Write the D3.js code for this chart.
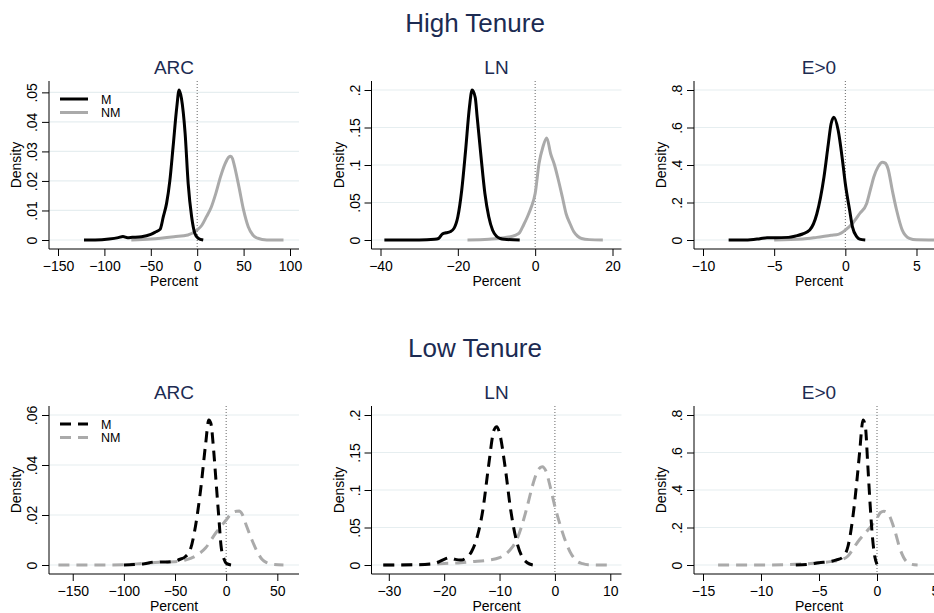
<!DOCTYPE html>
<html>
<head>
<meta charset="utf-8">
<script src="https://cdn.jsdelivr.net/npm/d3@7"></script>
<style>
  body { margin: 0; background: #fff; }
  text { font-family: "Liberation Sans", Arial, sans-serif; }
</style>
</head>
<body>
<div id="graph"></div>
<script>
// kernel density curves: [percent, density]
const highArcM = [[-122,0],[-110,0],[-95,0.0003],[-85,0.0008],[-80,0.0012],[-75,0.0008],[-70,0.0009],[-60,0.0011],[-50,0.0019],[-45,0.0027],[-40,0.0036],[-36.5,0.0079],[-33,0.0124],[-29.5,0.020],[-26,0.0315],[-22,0.045],[-19.5,0.0508],[-17,0.048],[-13,0.036],[-9.7,0.019],[-6,0.0079],[-2.5,0.0022],[1,0.0006],[6.5,0]];
const highArcNM = [[-71,0],[-50,0.0003],[-25,0.0011],[-10,0.0017],[0,0.0034],[5,0.005],[10,0.0079],[15,0.011],[20,0.0157],[25,0.0213],[30,0.0258],[34,0.0281],[36,0.0284],[38,0.0276],[40,0.0253],[45,0.018],[50,0.0101],[55,0.0045],[60,0.0017],[65,0.0006],[70,0.0002],[80,0],[93,0]];
const highLnM = [[-39,0],[-30,0],[-26,0.001],[-25,0.002],[-24,0.008],[-23,0.0097],[-22,0.011],[-21,0.0155],[-20,0.031],[-19,0.066],[-18,0.119],[-17,0.177],[-16.3,0.2],[-15.5,0.19],[-15,0.164],[-14,0.111],[-13,0.062],[-12,0.031],[-11,0.013],[-10,0.005],[-9,0.002],[-8,0.001],[-4,0]];
const highLnNM = [[-17.5,0],[-12,0.001],[-8,0.003],[-5,0.0066],[-4,0.01],[-3,0.02],[-2,0.031],[-1,0.044],[0,0.062],[1,0.102],[2,0.124],[3,0.136],[4,0.115],[5,0.1],[6,0.08],[7,0.058],[8,0.035],[9,0.022],[10,0.011],[11,0.005],[12,0.002],[14,0.0005],[17.5,0]];
const highEM = [[-8.2,0],[-7,0],[-6,0.007],[-5.5,0.012],[-5,0.012],[-4,0.014],[-3.5,0.021],[-3,0.032],[-2.5,0.053],[-2,0.14],[-1.5,0.336],[-1.2,0.51],[-1,0.62],[-0.8,0.655],[-0.5,0.584],[-0.2,0.425],[0,0.30],[0.3,0.16],[0.5,0.07],[0.8,0.018],[1,0.005],[1.4,0]];
const highENM = [[-5,0],[-3,0.005],[-2,0.014],[-1,0.025],[-0.5,0.03],[0,0.053],[0.5,0.088],[1,0.14],[1.5,0.195],[1.8,0.28],[2,0.336],[2.3,0.39],[2.6,0.415],[2.8,0.41],[3,0.38],[3.3,0.265],[3.6,0.16],[4,0.053],[4.5,0.009],[5,0.001],[6.3,0]];

const lowArcM = [[-100,0],[-90,0.0002],[-80,0.0005],[-70,0.0012],[-60,0.0012],[-50,0.0016],[-45,0.0023],[-40,0.0033],[-35,0.0062],[-30,0.0155],[-25,0.030],[-20,0.0487],[-17,0.058],[-15,0.0567],[-12,0.0447],[-10,0.034],[-7,0.018],[-5,0.0076],[-2,0.0023],[0,0.0007],[5,0]];
const lowArcNM = [[-164,0],[-130,0],[-100,0.0001],[-80,0.0007],[-60,0.0012],[-50,0.0013],[-40,0.002],[-30,0.0036],[-20,0.0069],[-10,0.0129],[-5,0.0155],[0,0.018],[5,0.0206],[10,0.0215],[13,0.0216],[15,0.0208],[20,0.0155],[25,0.0102],[30,0.0056],[35,0.0023],[40,0.0009],[45,0.0003],[56,0]];
const lowLnM = [[-31,0],[-25,0.0004],[-22,0.0018],[-21,0.004],[-20,0.0075],[-19,0.0097],[-18,0.0075],[-17,0.0066],[-16,0.0097],[-15,0.0186],[-14,0.0385],[-13,0.074],[-12,0.131],[-11,0.18],[-10.5,0.1845],[-10,0.176],[-9,0.131],[-8,0.074],[-7,0.034],[-6,0.012],[-5,0.003],[-4,0]];
const lowLnNM = [[-31,0],[-22,0.001],[-20,0.002],[-17,0.003],[-15,0.0044],[-12,0.0066],[-10,0.0097],[-9,0.014],[-8,0.021],[-7,0.032],[-6,0.052],[-5,0.078],[-4,0.107],[-3,0.127],[-2.3,0.131],[-1.5,0.123],[-1,0.109],[0,0.078],[1,0.052],[2,0.030],[3,0.014],[4,0.005],[5,0.0018],[6,0.0004],[9.5,0]];
const lowEM = [[-7,0],[-6,0.0035],[-5,0.012],[-4,0.019],[-3.5,0.027],[-3,0.039],[-2.5,0.1],[-2,0.296],[-1.7,0.47],[-1.5,0.6],[-1.2,0.774],[-1,0.738],[-0.8,0.54],[-0.6,0.33],[-0.4,0.154],[-0.2,0.048],[0,0.0035]];
const lowENM = [[-13.7,0],[-10,0],[-7,0.0035],[-5,0.012],[-4,0.018],[-3,0.03],[-2.5,0.048],[-2,0.092],[-1.5,0.136],[-1,0.172],[-0.5,0.207],[0,0.25],[0.3,0.28],[0.6,0.287],[1,0.27],[1.5,0.19],[2,0.083],[2.5,0.021],[3,0.0035],[3.5,0]];

// tick values
const arcHighXTicks = [-150, -100, -50, 0, 50, 100];
const lnHighXTicks = [-40, -20, 0, 20];
const eHighXTicks = [-10, -5, 0, 5];
const arcLowXTicks = [-150, -100, -50, 0, 50];
const lnLowXTicks = [-30, -20, -10, 0, 10];
const eLowXTicks = [-15, -10, -5, 0, 5];
const arcHighYTicks = [0, 0.01, 0.02, 0.03, 0.04, 0.05];
const arcLowYTicks = [0, 0.02, 0.04, 0.06];
const lnYTicks = [0, 0.05, 0.1, 0.15, 0.2];
const eYTicks = [0, 0.2, 0.4, 0.6, 0.8];

const rowTitles = ["High Tenure", "Low Tenure"];
const panelTitles = ["ARC", "LN", "E>0"];
const legendLabels = ["M", "NM"];

const panels = [
  {row: 0, col: 0, m: highArcM, nm: highArcNM, xDomain: [-150, 100], xTicks: arcHighXTicks, yMax: 0.0508, yTicks: arcHighYTicks, legend: true},
  {row: 0, col: 1, m: highLnM, nm: highLnNM, xDomain: [-40, 20], xTicks: lnHighXTicks, yMax: 0.2, yTicks: lnYTicks},
  {row: 0, col: 2, m: highEM, nm: highENM, xDomain: [-10, 6.3], xTicks: eHighXTicks, yMax: 0.8, yTicks: eYTicks},
  {row: 1, col: 0, m: lowArcM, nm: lowArcNM, xDomain: [-164.4, 62.4], xTicks: arcLowXTicks, yMax: 0.06, yTicks: arcLowYTicks, legend: true},
  {row: 1, col: 1, m: lowLnM, nm: lowLnNM, xDomain: [-31.5, 10.4], xTicks: lnLowXTicks, yMax: 0.2, yTicks: lnYTicks},
  {row: 1, col: 2, m: lowEM, nm: lowENM, xDomain: [-15, 5], xTicks: eLowXTicks, yMax: 0.8, yTicks: eYTicks}
];

const dimension = {
  width: 934, height: 613,
  box: {width: 250, height: 168, pad: 9},
  colLeft: [49, 371.5, 694],
  rowTop: [81, 406],
  rowTitleY: [31.7, 357.3]
};

const navy = "#1c2b52";
const grey = "#aaaaaa";
const gridColor = "#e6eef0";

function fmtDensity(d) {
  return d === 0 ? "0" : String(d).replace(/^0/, "");
}

function axisX(panel, x0) {
  const {width, pad} = dimension.box;
  return d3.scaleLinear().domain(panel.xDomain).range([x0 + pad, x0 + width - pad]);
}

function axisY(panel, y0) {
  const {height, pad} = dimension.box;
  return d3.scaleLinear().domain([0, panel.yMax]).range([y0 + height - pad, y0 + pad]);
}

function drawPanel(svg, panel) {
  const x0 = dimension.colLeft[panel.col];
  const y0 = dimension.rowTop[panel.row];
  const {width, height} = dimension.box;
  const x = axisX(panel, x0);
  const y = axisY(panel, y0);
  const g = svg.append("g");
  const dash = panel.row === 1 ? "11,7" : null;

  // gridlines
  g.selectAll(".grid")
    .data(panel.yTicks)
    .enter().append("line")
    .attr("x1", x0).attr("x2", x0 + width)
    .attr("y1", d => y(d)).attr("y2", d => y(d))
    .attr("stroke", gridColor).attr("stroke-width", 1.2);

  // reference line at zero
  g.append("line")
    .attr("x1", x(0)).attr("x2", x(0))
    .attr("y1", y0).attr("y2", y0 + height)
    .attr("stroke", "#666").attr("stroke-width", 1)
    .attr("stroke-dasharray", "1,2");

  const line = d3.line()
    .x(d => x(d[0]))
    .y(d => y(d[1]))
    .curve(d3.curveMonotoneX);

  [[panel.nm, grey], [panel.m, "#000"]].forEach(([data, color]) => {
    g.append("path")
      .datum(data)
      .attr("fill", "none")
      .attr("stroke", color)
      .attr("stroke-width", 3)
      .attr("stroke-linejoin", "round")
      .attr("stroke-dasharray", dash)
      .attr("d", line);
  });

  // y axis
  const yAxis = g.append("g")
    .attr("transform", `translate(${x0},0)`)
    .call(d3.axisLeft(y).tickValues(panel.yTicks).tickSize(7).tickSizeOuter(0).tickFormat(fmtDensity));
  yAxis.select(".domain").remove();
  yAxis.selectAll("line").attr("stroke", "#000");
  yAxis.selectAll("text")
    .attr("transform", "rotate(-90)")
    .attr("x", 0).attr("y", -12).attr("dy", 0)
    .style("text-anchor", "middle")
    .style("font-size", "14px")
    .attr("fill", "#000");
  g.append("line")
    .attr("x1", x0).attr("x2", x0)
    .attr("y1", y0).attr("y2", y0 + height)
    .attr("stroke", "#000");

  // x axis
  const xAxis = g.append("g")
    .attr("transform", `translate(0,${y0 + height})`)
    .call(d3.axisBottom(x).tickValues(panel.xTicks).tickSize(7).tickSizeOuter(0).tickFormat(d3.format("d")));
  xAxis.select(".domain").remove();
  xAxis.selectAll("line").attr("stroke", "#000");
  xAxis.selectAll("text")
    .attr("y", 22.4).attr("dy", 0)
    .style("font-size", "14px")
    .attr("fill", "#000");
  g.append("line")
    .attr("x1", x0).attr("x2", x0 + width)
    .attr("y1", y0 + height).attr("y2", y0 + height)
    .attr("stroke", "#000");

  // axis titles
  g.append("text")
    .attr("x", x0 + width / 2)
    .attr("y", y0 + height + 37)
    .style("text-anchor", "middle")
    .style("font-size", "14px")
    .text("Percent");

  g.append("text")
    .attr("transform", `translate(${x0 - 28},${y0 + height / 2}) rotate(-90)`)
    .style("text-anchor", "middle")
    .style("font-size", "14px")
    .text("Density");

  // panel title
  g.append("text")
    .attr("x", x0 + width / 2)
    .attr("y", y0 - 7)
    .style("text-anchor", "middle")
    .style("font-size", "19px")
    .attr("fill", navy)
    .text(panelTitles[panel.col]);

  if (panel.legend) {
    const rows = [["#000", 18], [grey, 31.5]];
    rows.forEach(([color, dy], k) => {
      g.append("line")
        .attr("x1", x0 + 11).attr("x2", x0 + 39)
        .attr("y1", y0 + dy).attr("y2", y0 + dy)
        .attr("stroke", color).attr("stroke-width", 3)
        .attr("stroke-dasharray", dash);
      g.append("text")
        .attr("x", x0 + 52)
        .attr("y", y0 + dy)
        .attr("dy", "0.36em")
        .style("font-size", "12.5px")
        .text(legendLabels[k]);
    });
  }
}

const svg = d3.select("#graph").append("svg")
  .attr("width", dimension.width)
  .attr("height", dimension.height)
  .style("display", "block")
  .style("background", "#fff");

rowTitles.forEach((t, r) => {
  svg.append("text")
    .attr("x", 475)
    .attr("y", dimension.rowTitleY[r])
    .style("text-anchor", "middle")
    .style("font-size", "26px")
    .attr("fill", navy)
    .text(t);
});

panels.forEach(p => drawPanel(svg, p));
</script>
</body>
</html>
